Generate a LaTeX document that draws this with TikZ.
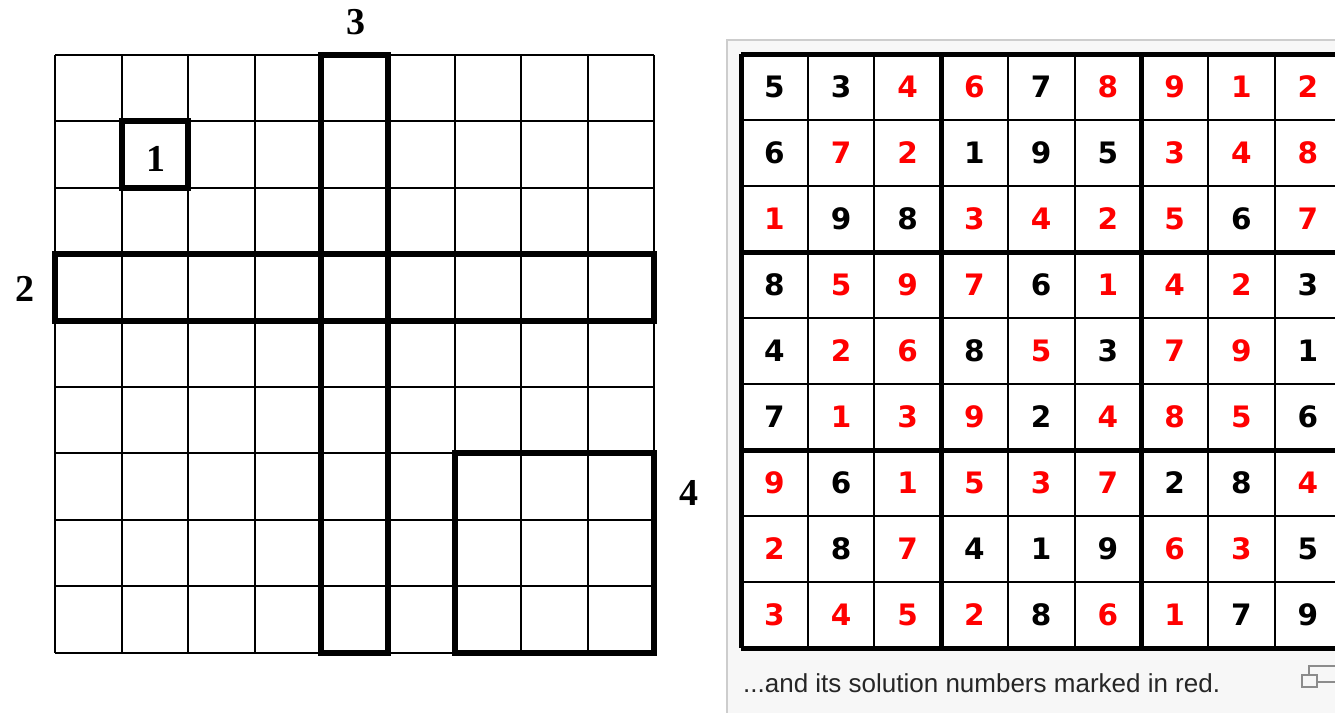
\documentclass[tikz,border=0pt]{standalone}
\usepackage{fontspec}
\setmainfont{Liberation Serif}
\newfontfamily\gridfont{DejaVu Sans}
\newfontfamily\capfont{Liberation Sans}
\definecolor{solred}{RGB}{255,0,0}
\definecolor{panelgray}{RGB}{247,247,247}
\definecolor{panelline}{RGB}{205,205,205}
\definecolor{icongray}{RGB}{140,140,140}
\colorlet{g}{black}
\colorlet{s}{solred}

\begin{document}
\begin{tikzpicture}[x=1pt,y=-1pt,
  gridline/.style={line width=2pt},
  hilite/.style={line width=6pt},
  blockline/.style={line width=5pt},
  lbl/.style={font=\bfseries\fontsize{38}{38}\selectfont,inner sep=0pt},
  num/.style={font=\gridfont\bfseries\fontsize{29.5}{29.5}\selectfont,inner sep=0pt}
]
  \useasboundingbox (0,0) rectangle (1335,712);
  \clip (0,0) rectangle (1335,712);

  % empty grid with the four regions
  \begin{scope}[shift={(55,55)},x=66.6pt,y=-66.4pt]
    \foreach \i in {0,...,9} {
      \draw[gridline] (\i,0) -- (\i,9);
      \draw[gridline] (0,\i) -- (9,\i);
    }
    \draw[hilite] (1,1) rectangle (2,2);
    \draw[hilite] (0,3) rectangle (9,4);
    \draw[hilite] (4,0) rectangle (5,9);
    \draw[hilite] (6,6) rectangle (9,9);
    \node[lbl] (one) at (1.52,1.57) {1};
    \node[lbl] (two) at (-0.45,3.52) {2};
    \node[lbl] (three) at (4.52,-0.5) {3};
    \node[lbl] (four) at (9.52,6.6) {4};
  \end{scope}

  % panel
  \fill[panelgray] (727,40) rectangle (1345,720);
  \draw[panelline,line width=2pt] (727,720) -- (727,40) -- (1345,40);
  \fill[white] (741,54) rectangle (1345,648);

  % solved puzzle
  \begin{scope}[shift={(741,54)},x=66.7pt,y=-66pt]
    \foreach \i in {0,...,9} {
      \draw[gridline] (\i,0) -- (\i,9);
      \draw[gridline] (0,\i) -- (9,\i);
    }
    \foreach \k in {0,3,6,9} {
      \draw[blockline] (\k,0) -- (\k,9);
      \draw[blockline] (0,\k) -- (9,\k);
    }
    \foreach \cells [count=\r] in {
      {5/g,3/g,4/s,6/s,7/g,8/s,9/s,1/s,2/s},
      {6/g,7/s,2/s,1/g,9/g,5/g,3/s,4/s,8/s},
      {1/s,9/g,8/g,3/s,4/s,2/s,5/s,6/g,7/s},
      {8/g,5/s,9/s,7/s,6/g,1/s,4/s,2/s,3/g},
      {4/g,2/s,6/s,8/g,5/s,3/g,7/s,9/s,1/g},
      {7/g,1/s,3/s,9/s,2/g,4/s,8/s,5/s,6/g},
      {9/s,6/g,1/s,5/s,3/s,7/s,2/g,8/g,4/s},
      {2/s,8/g,7/s,4/g,1/g,9/g,6/s,3/s,5/g},
      {3/s,4/s,5/s,2/s,8/g,6/s,1/s,7/g,9/g}} {
      \foreach \n/\t [count=\c] in \cells
        \node[num,text=\t] (n\r\c) at (\c-0.5,\r-0.5) {\n};
    }
  \end{scope}

  % caption
  \node[font=\capfont\fontsize{26}{26}\selectfont,text=black!85,anchor=west,inner sep=0pt]
    (caption) at (743,683) {...and its solution numbers marked in red.};
  \draw[icongray,line width=1.5pt] (1309,666) rectangle (1340,682);
  \filldraw[fill=panelgray,draw=icongray,line width=1.5pt] (1302,675) rectangle (1317,687);
\end{tikzpicture}
\end{document}
